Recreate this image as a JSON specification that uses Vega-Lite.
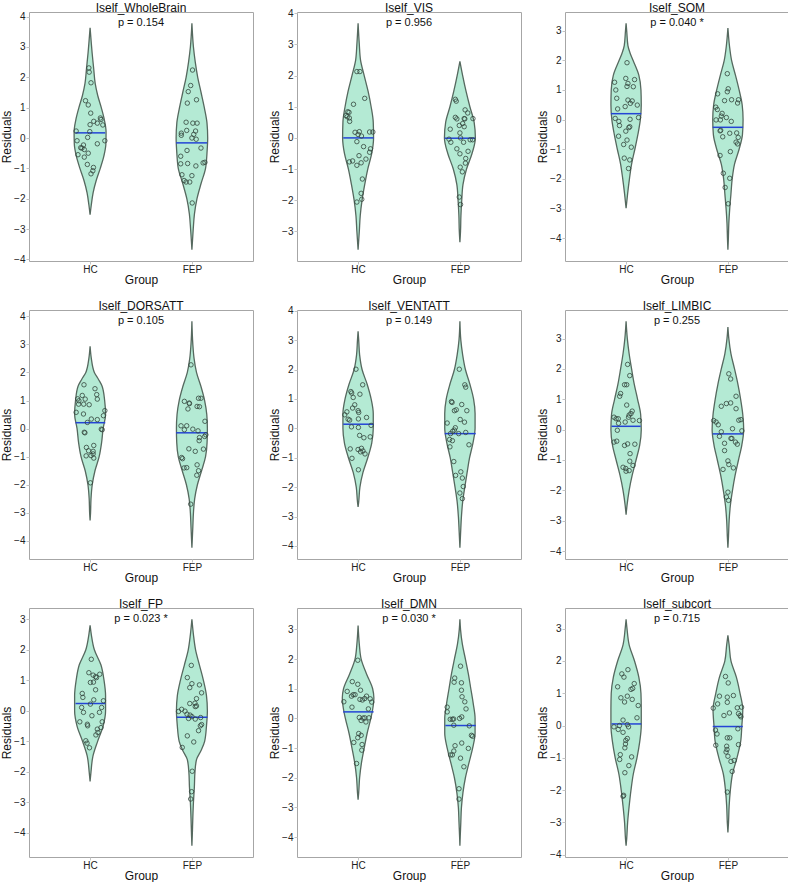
{
"$schema":"https://vega.github.io/schema/vega-lite/v6.json",
"background":"white",
"padding":{"left":0,"top":0,"right":0,"bottom":0},
"data":{"values":[
{"p":"WholeBrain","k":"t","h":"Iself_WholeBrain","t":"p = 0.154"},
{"p":"VIS","k":"t","h":"Iself_VIS","t":"p = 0.956"},
{"p":"SOM","k":"t","h":"Iself_SOM","t":"p = 0.040 *"},
{"p":"DORSATT","k":"t","h":"Iself_DORSATT","t":"p = 0.105"},
{"p":"VENTATT","k":"t","h":"Iself_VENTATT","t":"p = 0.149"},
{"p":"LIMBIC","k":"t","h":"Iself_LIMBIC","t":"p = 0.255"},
{"p":"FP","k":"t","h":"Iself_FP","t":"p = 0.023 *"},
{"p":"DMN","k":"t","h":"Iself_DMN","t":"p = 0.030 *"},
{"p":"subcort","k":"t","h":"Iself_subcort","t":"p = 0.715"},

{"p":"WholeBrain","g":"HC","k":"m","y":0.17,"lo":-0.145,"hi":0.149},
{"p":"WholeBrain","g":"FEP","k":"m","y":-0.16,"lo":0.845,"hi":1.149},
{"p":"VIS","g":"HC","k":"m","y":0.0,"lo":-0.146,"hi":0.152},
{"p":"VIS","g":"FEP","k":"m","y":-0.01,"lo":0.851,"hi":1.149},
{"p":"SOM","g":"HC","k":"m","y":0.2,"lo":-0.149,"hi":0.149},
{"p":"SOM","g":"FEP","k":"m","y":-0.26,"lo":0.851,"hi":1.149},
{"p":"DORSATT","g":"HC","k":"m","y":0.21,"lo":-0.143,"hi":0.149},
{"p":"DORSATT","g":"FEP","k":"m","y":-0.15,"lo":0.845,"hi":1.149},
{"p":"VENTATT","g":"HC","k":"m","y":0.14,"lo":-0.146,"hi":0.152},
{"p":"VENTATT","g":"FEP","k":"m","y":-0.18,"lo":0.851,"hi":1.155},
{"p":"LIMBIC","g":"HC","k":"m","y":0.11,"lo":-0.143,"hi":0.143},
{"p":"LIMBIC","g":"FEP","k":"m","y":-0.14,"lo":0.851,"hi":1.149},
{"p":"FP","g":"HC","k":"m","y":0.24,"lo":-0.143,"hi":0.149},
{"p":"FP","g":"FEP","k":"m","y":-0.21,"lo":0.851,"hi":1.152},
{"p":"DMN","g":"HC","k":"m","y":0.22,"lo":-0.146,"hi":0.152},
{"p":"DMN","g":"FEP","k":"m","y":-0.24,"lo":0.857,"hi":1.155},
{"p":"subcort","g":"HC","k":"m","y":0.05,"lo":-0.143,"hi":0.149},
{"p":"subcort","g":"FEP","k":"m","y":-0.03,"lo":0.851,"hi":1.146},

{"p":"WholeBrain","g":"HC","k":"v","y":3.63,"lo":0,"hi":0},
{"p":"WholeBrain","g":"HC","k":"v","y":3.2,"lo":-0.01,"hi":0.01},
{"p":"WholeBrain","g":"HC","k":"v","y":2.8,"lo":-0.02,"hi":0.02},
{"p":"WholeBrain","g":"HC","k":"v","y":2.3,"lo":-0.035,"hi":0.035},
{"p":"WholeBrain","g":"HC","k":"v","y":1.8,"lo":-0.05,"hi":0.05},
{"p":"WholeBrain","g":"HC","k":"v","y":1.4,"lo":-0.075,"hi":0.075},
{"p":"WholeBrain","g":"HC","k":"v","y":1.0,"lo":-0.11,"hi":0.11},
{"p":"WholeBrain","g":"HC","k":"v","y":0.6,"lo":-0.14,"hi":0.14},
{"p":"WholeBrain","g":"HC","k":"v","y":0.2,"lo":-0.157,"hi":0.157},
{"p":"WholeBrain","g":"HC","k":"v","y":-0.2,"lo":-0.155,"hi":0.155},
{"p":"WholeBrain","g":"HC","k":"v","y":-0.6,"lo":-0.135,"hi":0.135},
{"p":"WholeBrain","g":"HC","k":"v","y":-1.0,"lo":-0.1,"hi":0.1},
{"p":"WholeBrain","g":"HC","k":"v","y":-1.4,"lo":-0.06,"hi":0.06},
{"p":"WholeBrain","g":"HC","k":"v","y":-1.8,"lo":-0.03,"hi":0.03},
{"p":"WholeBrain","g":"HC","k":"v","y":-2.2,"lo":-0.012,"hi":0.012},
{"p":"WholeBrain","g":"HC","k":"v","y":-2.53,"lo":0,"hi":0},
{"p":"WholeBrain","g":"FEP","k":"v","y":3.78,"lo":1,"hi":1},
{"p":"WholeBrain","g":"FEP","k":"v","y":3.0,"lo":0.985,"hi":1.015},
{"p":"WholeBrain","g":"FEP","k":"v","y":2.5,"lo":0.967,"hi":1.033},
{"p":"WholeBrain","g":"FEP","k":"v","y":2.0,"lo":0.943,"hi":1.057},
{"p":"WholeBrain","g":"FEP","k":"v","y":1.5,"lo":0.91,"hi":1.09},
{"p":"WholeBrain","g":"FEP","k":"v","y":1.0,"lo":0.878,"hi":1.122},
{"p":"WholeBrain","g":"FEP","k":"v","y":0.5,"lo":0.852,"hi":1.148},
{"p":"WholeBrain","g":"FEP","k":"v","y":0.0,"lo":0.845,"hi":1.155},
{"p":"WholeBrain","g":"FEP","k":"v","y":-0.5,"lo":0.852,"hi":1.148},
{"p":"WholeBrain","g":"FEP","k":"v","y":-1.0,"lo":0.866,"hi":1.134},
{"p":"WholeBrain","g":"FEP","k":"v","y":-1.5,"lo":0.91,"hi":1.09},
{"p":"WholeBrain","g":"FEP","k":"v","y":-2.0,"lo":0.95,"hi":1.05},
{"p":"WholeBrain","g":"FEP","k":"v","y":-2.5,"lo":0.975,"hi":1.025},
{"p":"WholeBrain","g":"FEP","k":"v","y":-3.0,"lo":0.987,"hi":1.013},
{"p":"WholeBrain","g":"FEP","k":"v","y":-3.68,"lo":1,"hi":1},

{"p":"VIS","g":"HC","k":"v","y":3.68,"lo":0,"hi":0},
{"p":"VIS","g":"HC","k":"v","y":3.0,"lo":-0.012,"hi":0.012},
{"p":"VIS","g":"HC","k":"v","y":2.5,"lo":-0.024,"hi":0.024},
{"p":"VIS","g":"HC","k":"v","y":2.0,"lo":-0.06,"hi":0.06},
{"p":"VIS","g":"HC","k":"v","y":1.5,"lo":-0.098,"hi":0.098},
{"p":"VIS","g":"HC","k":"v","y":1.0,"lo":-0.128,"hi":0.128},
{"p":"VIS","g":"HC","k":"v","y":0.5,"lo":-0.149,"hi":0.149},
{"p":"VIS","g":"HC","k":"v","y":0.0,"lo":-0.152,"hi":0.152},
{"p":"VIS","g":"HC","k":"v","y":-0.5,"lo":-0.134,"hi":0.134},
{"p":"VIS","g":"HC","k":"v","y":-1.0,"lo":-0.095,"hi":0.095},
{"p":"VIS","g":"HC","k":"v","y":-1.5,"lo":-0.065,"hi":0.065},
{"p":"VIS","g":"HC","k":"v","y":-2.0,"lo":-0.039,"hi":0.039},
{"p":"VIS","g":"HC","k":"v","y":-2.5,"lo":-0.021,"hi":0.021},
{"p":"VIS","g":"HC","k":"v","y":-3.0,"lo":-0.012,"hi":0.012},
{"p":"VIS","g":"HC","k":"v","y":-3.59,"lo":0,"hi":0},
{"p":"VIS","g":"FEP","k":"v","y":2.46,"lo":1,"hi":1},
{"p":"VIS","g":"FEP","k":"v","y":2.0,"lo":0.973,"hi":1.027},
{"p":"VIS","g":"FEP","k":"v","y":1.5,"lo":0.94,"hi":1.06},
{"p":"VIS","g":"FEP","k":"v","y":1.0,"lo":0.902,"hi":1.098},
{"p":"VIS","g":"FEP","k":"v","y":0.5,"lo":0.86,"hi":1.14},
{"p":"VIS","g":"FEP","k":"v","y":0.0,"lo":0.848,"hi":1.152},
{"p":"VIS","g":"FEP","k":"v","y":-0.5,"lo":0.881,"hi":1.119},
{"p":"VIS","g":"FEP","k":"v","y":-1.0,"lo":0.935,"hi":1.065},
{"p":"VIS","g":"FEP","k":"v","y":-1.5,"lo":0.97,"hi":1.03},
{"p":"VIS","g":"FEP","k":"v","y":-2.0,"lo":0.982,"hi":1.018},
{"p":"VIS","g":"FEP","k":"v","y":-2.5,"lo":0.99,"hi":1.01},
{"p":"VIS","g":"FEP","k":"v","y":-3.0,"lo":0.994,"hi":1.006},
{"p":"VIS","g":"FEP","k":"v","y":-3.35,"lo":1,"hi":1},

{"p":"SOM","g":"HC","k":"v","y":3.25,"lo":0,"hi":0},
{"p":"SOM","g":"HC","k":"v","y":3.0,"lo":-0.006,"hi":0.006},
{"p":"SOM","g":"HC","k":"v","y":2.5,"lo":-0.018,"hi":0.018},
{"p":"SOM","g":"HC","k":"v","y":2.25,"lo":-0.039,"hi":0.039},
{"p":"SOM","g":"HC","k":"v","y":2.0,"lo":-0.068,"hi":0.068},
{"p":"SOM","g":"HC","k":"v","y":1.5,"lo":-0.125,"hi":0.125},
{"p":"SOM","g":"HC","k":"v","y":1.0,"lo":-0.146,"hi":0.146},
{"p":"SOM","g":"HC","k":"v","y":0.5,"lo":-0.149,"hi":0.149},
{"p":"SOM","g":"HC","k":"v","y":0.0,"lo":-0.14,"hi":0.14},
{"p":"SOM","g":"HC","k":"v","y":-0.5,"lo":-0.116,"hi":0.116},
{"p":"SOM","g":"HC","k":"v","y":-1.0,"lo":-0.086,"hi":0.086},
{"p":"SOM","g":"HC","k":"v","y":-1.5,"lo":-0.054,"hi":0.054},
{"p":"SOM","g":"HC","k":"v","y":-2.0,"lo":-0.033,"hi":0.033},
{"p":"SOM","g":"HC","k":"v","y":-2.5,"lo":-0.015,"hi":0.015},
{"p":"SOM","g":"HC","k":"v","y":-2.99,"lo":0,"hi":0},
{"p":"SOM","g":"FEP","k":"v","y":3.09,"lo":1,"hi":1},
{"p":"SOM","g":"FEP","k":"v","y":2.5,"lo":0.985,"hi":1.015},
{"p":"SOM","g":"FEP","k":"v","y":2.0,"lo":0.964,"hi":1.036},
{"p":"SOM","g":"FEP","k":"v","y":1.5,"lo":0.926,"hi":1.074},
{"p":"SOM","g":"FEP","k":"v","y":1.0,"lo":0.89,"hi":1.11},
{"p":"SOM","g":"FEP","k":"v","y":0.5,"lo":0.86,"hi":1.14},
{"p":"SOM","g":"FEP","k":"v","y":0.0,"lo":0.851,"hi":1.149},
{"p":"SOM","g":"FEP","k":"v","y":-0.5,"lo":0.857,"hi":1.143},
{"p":"SOM","g":"FEP","k":"v","y":-1.0,"lo":0.89,"hi":1.11},
{"p":"SOM","g":"FEP","k":"v","y":-1.5,"lo":0.935,"hi":1.065},
{"p":"SOM","g":"FEP","k":"v","y":-2.0,"lo":0.958,"hi":1.042},
{"p":"SOM","g":"FEP","k":"v","y":-2.5,"lo":0.97,"hi":1.03},
{"p":"SOM","g":"FEP","k":"v","y":-3.0,"lo":0.982,"hi":1.018},
{"p":"SOM","g":"FEP","k":"v","y":-3.5,"lo":0.991,"hi":1.009},
{"p":"SOM","g":"FEP","k":"v","y":-4.0,"lo":0.9955,"hi":1.0045},
{"p":"SOM","g":"FEP","k":"v","y":-4.39,"lo":1,"hi":1},

{"p":"DORSATT","g":"HC","k":"v","y":2.93,"lo":0,"hi":0},
{"p":"DORSATT","g":"HC","k":"v","y":2.5,"lo":-0.012,"hi":0.012},
{"p":"DORSATT","g":"HC","k":"v","y":2.0,"lo":-0.042,"hi":0.042},
{"p":"DORSATT","g":"HC","k":"v","y":1.75,"lo":-0.083,"hi":0.083},
{"p":"DORSATT","g":"HC","k":"v","y":1.5,"lo":-0.119,"hi":0.119},
{"p":"DORSATT","g":"HC","k":"v","y":1.0,"lo":-0.143,"hi":0.143},
{"p":"DORSATT","g":"HC","k":"v","y":0.5,"lo":-0.152,"hi":0.152},
{"p":"DORSATT","g":"HC","k":"v","y":0.0,"lo":-0.128,"hi":0.128},
{"p":"DORSATT","g":"HC","k":"v","y":-0.5,"lo":-0.113,"hi":0.113},
{"p":"DORSATT","g":"HC","k":"v","y":-1.0,"lo":-0.089,"hi":0.089},
{"p":"DORSATT","g":"HC","k":"v","y":-1.5,"lo":-0.048,"hi":0.048},
{"p":"DORSATT","g":"HC","k":"v","y":-2.0,"lo":-0.021,"hi":0.021},
{"p":"DORSATT","g":"HC","k":"v","y":-2.5,"lo":-0.009,"hi":0.009},
{"p":"DORSATT","g":"HC","k":"v","y":-3.0,"lo":-0.0045,"hi":0.0045},
{"p":"DORSATT","g":"HC","k":"v","y":-3.27,"lo":0,"hi":0},
{"p":"DORSATT","g":"FEP","k":"v","y":3.82,"lo":1,"hi":1},
{"p":"DORSATT","g":"FEP","k":"v","y":3.0,"lo":0.991,"hi":1.009},
{"p":"DORSATT","g":"FEP","k":"v","y":2.5,"lo":0.979,"hi":1.021},
{"p":"DORSATT","g":"FEP","k":"v","y":2.0,"lo":0.955,"hi":1.045},
{"p":"DORSATT","g":"FEP","k":"v","y":1.5,"lo":0.911,"hi":1.089},
{"p":"DORSATT","g":"FEP","k":"v","y":1.0,"lo":0.875,"hi":1.125},
{"p":"DORSATT","g":"FEP","k":"v","y":0.5,"lo":0.854,"hi":1.146},
{"p":"DORSATT","g":"FEP","k":"v","y":0.0,"lo":0.848,"hi":1.152},
{"p":"DORSATT","g":"FEP","k":"v","y":-0.5,"lo":0.851,"hi":1.149},
{"p":"DORSATT","g":"FEP","k":"v","y":-1.0,"lo":0.866,"hi":1.134},
{"p":"DORSATT","g":"FEP","k":"v","y":-1.5,"lo":0.905,"hi":1.095},
{"p":"DORSATT","g":"FEP","k":"v","y":-2.0,"lo":0.946,"hi":1.054},
{"p":"DORSATT","g":"FEP","k":"v","y":-2.5,"lo":0.973,"hi":1.027},
{"p":"DORSATT","g":"FEP","k":"v","y":-3.0,"lo":0.985,"hi":1.015},
{"p":"DORSATT","g":"FEP","k":"v","y":-3.5,"lo":0.991,"hi":1.009},
{"p":"DORSATT","g":"FEP","k":"v","y":-4.0,"lo":0.997,"hi":1.003},
{"p":"DORSATT","g":"FEP","k":"v","y":-4.24,"lo":1,"hi":1},

{"p":"VENTATT","g":"HC","k":"v","y":3.3,"lo":0,"hi":0},
{"p":"VENTATT","g":"HC","k":"v","y":3.0,"lo":-0.006,"hi":0.006},
{"p":"VENTATT","g":"HC","k":"v","y":2.5,"lo":-0.015,"hi":0.015},
{"p":"VENTATT","g":"HC","k":"v","y":2.0,"lo":-0.039,"hi":0.039},
{"p":"VENTATT","g":"HC","k":"v","y":1.5,"lo":-0.089,"hi":0.089},
{"p":"VENTATT","g":"HC","k":"v","y":1.0,"lo":-0.128,"hi":0.128},
{"p":"VENTATT","g":"HC","k":"v","y":0.5,"lo":-0.149,"hi":0.149},
{"p":"VENTATT","g":"HC","k":"v","y":0.0,"lo":-0.149,"hi":0.149},
{"p":"VENTATT","g":"HC","k":"v","y":-0.5,"lo":-0.134,"hi":0.134},
{"p":"VENTATT","g":"HC","k":"v","y":-1.0,"lo":-0.095,"hi":0.095},
{"p":"VENTATT","g":"HC","k":"v","y":-1.5,"lo":-0.048,"hi":0.048},
{"p":"VENTATT","g":"HC","k":"v","y":-2.0,"lo":-0.018,"hi":0.018},
{"p":"VENTATT","g":"HC","k":"v","y":-2.5,"lo":-0.006,"hi":0.006},
{"p":"VENTATT","g":"HC","k":"v","y":-2.67,"lo":0,"hi":0},
{"p":"VENTATT","g":"FEP","k":"v","y":3.64,"lo":1,"hi":1},
{"p":"VENTATT","g":"FEP","k":"v","y":3.0,"lo":0.991,"hi":1.009},
{"p":"VENTATT","g":"FEP","k":"v","y":2.5,"lo":0.973,"hi":1.027},
{"p":"VENTATT","g":"FEP","k":"v","y":2.0,"lo":0.946,"hi":1.054},
{"p":"VENTATT","g":"FEP","k":"v","y":1.5,"lo":0.902,"hi":1.098},
{"p":"VENTATT","g":"FEP","k":"v","y":1.0,"lo":0.866,"hi":1.134},
{"p":"VENTATT","g":"FEP","k":"v","y":0.5,"lo":0.851,"hi":1.149},
{"p":"VENTATT","g":"FEP","k":"v","y":0.0,"lo":0.851,"hi":1.149},
{"p":"VENTATT","g":"FEP","k":"v","y":-0.5,"lo":0.872,"hi":1.128},
{"p":"VENTATT","g":"FEP","k":"v","y":-1.0,"lo":0.905,"hi":1.095},
{"p":"VENTATT","g":"FEP","k":"v","y":-1.5,"lo":0.929,"hi":1.071},
{"p":"VENTATT","g":"FEP","k":"v","y":-2.0,"lo":0.952,"hi":1.048},
{"p":"VENTATT","g":"FEP","k":"v","y":-2.5,"lo":0.973,"hi":1.027},
{"p":"VENTATT","g":"FEP","k":"v","y":-3.0,"lo":0.985,"hi":1.015},
{"p":"VENTATT","g":"FEP","k":"v","y":-3.5,"lo":0.9925,"hi":1.0075},
{"p":"VENTATT","g":"FEP","k":"v","y":-4.06,"lo":1,"hi":1},

{"p":"LIMBIC","g":"HC","k":"v","y":3.57,"lo":0,"hi":0},
{"p":"LIMBIC","g":"HC","k":"v","y":3.0,"lo":-0.012,"hi":0.012},
{"p":"LIMBIC","g":"HC","k":"v","y":2.5,"lo":-0.03,"hi":0.03},
{"p":"LIMBIC","g":"HC","k":"v","y":2.0,"lo":-0.054,"hi":0.054},
{"p":"LIMBIC","g":"HC","k":"v","y":1.5,"lo":-0.08,"hi":0.08},
{"p":"LIMBIC","g":"HC","k":"v","y":1.0,"lo":-0.113,"hi":0.113},
{"p":"LIMBIC","g":"HC","k":"v","y":0.5,"lo":-0.143,"hi":0.143},
{"p":"LIMBIC","g":"HC","k":"v","y":0.0,"lo":-0.149,"hi":0.149},
{"p":"LIMBIC","g":"HC","k":"v","y":-0.5,"lo":-0.134,"hi":0.134},
{"p":"LIMBIC","g":"HC","k":"v","y":-1.0,"lo":-0.098,"hi":0.098},
{"p":"LIMBIC","g":"HC","k":"v","y":-1.5,"lo":-0.06,"hi":0.06},
{"p":"LIMBIC","g":"HC","k":"v","y":-2.0,"lo":-0.03,"hi":0.03},
{"p":"LIMBIC","g":"HC","k":"v","y":-2.5,"lo":-0.009,"hi":0.009},
{"p":"LIMBIC","g":"HC","k":"v","y":-2.8,"lo":0,"hi":0},
{"p":"LIMBIC","g":"FEP","k":"v","y":3.38,"lo":1,"hi":1},
{"p":"LIMBIC","g":"FEP","k":"v","y":3.0,"lo":0.991,"hi":1.009},
{"p":"LIMBIC","g":"FEP","k":"v","y":2.5,"lo":0.97,"hi":1.03},
{"p":"LIMBIC","g":"FEP","k":"v","y":2.0,"lo":0.935,"hi":1.065},
{"p":"LIMBIC","g":"FEP","k":"v","y":1.5,"lo":0.902,"hi":1.098},
{"p":"LIMBIC","g":"FEP","k":"v","y":1.0,"lo":0.875,"hi":1.125},
{"p":"LIMBIC","g":"FEP","k":"v","y":0.5,"lo":0.854,"hi":1.146},
{"p":"LIMBIC","g":"FEP","k":"v","y":0.0,"lo":0.845,"hi":1.155},
{"p":"LIMBIC","g":"FEP","k":"v","y":-0.5,"lo":0.863,"hi":1.137},
{"p":"LIMBIC","g":"FEP","k":"v","y":-1.0,"lo":0.896,"hi":1.104},
{"p":"LIMBIC","g":"FEP","k":"v","y":-1.5,"lo":0.929,"hi":1.071},
{"p":"LIMBIC","g":"FEP","k":"v","y":-2.0,"lo":0.955,"hi":1.045},
{"p":"LIMBIC","g":"FEP","k":"v","y":-2.5,"lo":0.976,"hi":1.024},
{"p":"LIMBIC","g":"FEP","k":"v","y":-3.0,"lo":0.988,"hi":1.012},
{"p":"LIMBIC","g":"FEP","k":"v","y":-3.5,"lo":0.994,"hi":1.006},
{"p":"LIMBIC","g":"FEP","k":"v","y":-3.89,"lo":1,"hi":1},

{"p":"FP","g":"HC","k":"v","y":2.8,"lo":0,"hi":0},
{"p":"FP","g":"HC","k":"v","y":2.5,"lo":-0.012,"hi":0.012},
{"p":"FP","g":"HC","k":"v","y":2.0,"lo":-0.042,"hi":0.042},
{"p":"FP","g":"HC","k":"v","y":1.5,"lo":-0.107,"hi":0.107},
{"p":"FP","g":"HC","k":"v","y":1.0,"lo":-0.137,"hi":0.137},
{"p":"FP","g":"HC","k":"v","y":0.5,"lo":-0.152,"hi":0.152},
{"p":"FP","g":"HC","k":"v","y":0.0,"lo":-0.152,"hi":0.152},
{"p":"FP","g":"HC","k":"v","y":-0.5,"lo":-0.128,"hi":0.128},
{"p":"FP","g":"HC","k":"v","y":-1.0,"lo":-0.074,"hi":0.074},
{"p":"FP","g":"HC","k":"v","y":-1.5,"lo":-0.027,"hi":0.027},
{"p":"FP","g":"HC","k":"v","y":-2.0,"lo":-0.009,"hi":0.009},
{"p":"FP","g":"HC","k":"v","y":-2.31,"lo":0,"hi":0},
{"p":"FP","g":"FEP","k":"v","y":3.0,"lo":1,"hi":1},
{"p":"FP","g":"FEP","k":"v","y":2.5,"lo":0.985,"hi":1.015},
{"p":"FP","g":"FEP","k":"v","y":2.0,"lo":0.964,"hi":1.036},
{"p":"FP","g":"FEP","k":"v","y":1.5,"lo":0.926,"hi":1.074},
{"p":"FP","g":"FEP","k":"v","y":1.0,"lo":0.887,"hi":1.113},
{"p":"FP","g":"FEP","k":"v","y":0.5,"lo":0.857,"hi":1.143},
{"p":"FP","g":"FEP","k":"v","y":0.0,"lo":0.848,"hi":1.152},
{"p":"FP","g":"FEP","k":"v","y":-0.5,"lo":0.857,"hi":1.143},
{"p":"FP","g":"FEP","k":"v","y":-1.0,"lo":0.875,"hi":1.125},
{"p":"FP","g":"FEP","k":"v","y":-1.3,"lo":0.91,"hi":1.09},
{"p":"FP","g":"FEP","k":"v","y":-1.6,"lo":0.955,"hi":1.045},
{"p":"FP","g":"FEP","k":"v","y":-2.0,"lo":0.97,"hi":1.03},
{"p":"FP","g":"FEP","k":"v","y":-2.5,"lo":0.976,"hi":1.024},
{"p":"FP","g":"FEP","k":"v","y":-3.0,"lo":0.985,"hi":1.015},
{"p":"FP","g":"FEP","k":"v","y":-3.5,"lo":0.991,"hi":1.009},
{"p":"FP","g":"FEP","k":"v","y":-4.0,"lo":0.9955,"hi":1.0045},
{"p":"FP","g":"FEP","k":"v","y":-4.42,"lo":1,"hi":1},

{"p":"DMN","g":"HC","k":"v","y":3.13,"lo":0,"hi":0},
{"p":"DMN","g":"HC","k":"v","y":2.5,"lo":-0.012,"hi":0.012},
{"p":"DMN","g":"HC","k":"v","y":2.0,"lo":-0.03,"hi":0.03},
{"p":"DMN","g":"HC","k":"v","y":1.5,"lo":-0.083,"hi":0.083},
{"p":"DMN","g":"HC","k":"v","y":1.0,"lo":-0.143,"hi":0.143},
{"p":"DMN","g":"HC","k":"v","y":0.7,"lo":-0.155,"hi":0.155},
{"p":"DMN","g":"HC","k":"v","y":0.3,"lo":-0.143,"hi":0.143},
{"p":"DMN","g":"HC","k":"v","y":0.0,"lo":-0.125,"hi":0.125},
{"p":"DMN","g":"HC","k":"v","y":-0.5,"lo":-0.089,"hi":0.089},
{"p":"DMN","g":"HC","k":"v","y":-1.0,"lo":-0.06,"hi":0.06},
{"p":"DMN","g":"HC","k":"v","y":-1.5,"lo":-0.033,"hi":0.033},
{"p":"DMN","g":"HC","k":"v","y":-2.0,"lo":-0.015,"hi":0.015},
{"p":"DMN","g":"HC","k":"v","y":-2.5,"lo":-0.006,"hi":0.006},
{"p":"DMN","g":"HC","k":"v","y":-2.74,"lo":0,"hi":0},
{"p":"DMN","g":"FEP","k":"v","y":3.34,"lo":1,"hi":1},
{"p":"DMN","g":"FEP","k":"v","y":3.0,"lo":0.994,"hi":1.006},
{"p":"DMN","g":"FEP","k":"v","y":2.5,"lo":0.976,"hi":1.024},
{"p":"DMN","g":"FEP","k":"v","y":2.0,"lo":0.946,"hi":1.054},
{"p":"DMN","g":"FEP","k":"v","y":1.5,"lo":0.917,"hi":1.083},
{"p":"DMN","g":"FEP","k":"v","y":1.0,"lo":0.893,"hi":1.107},
{"p":"DMN","g":"FEP","k":"v","y":0.5,"lo":0.869,"hi":1.131},
{"p":"DMN","g":"FEP","k":"v","y":0.0,"lo":0.851,"hi":1.149},
{"p":"DMN","g":"FEP","k":"v","y":-0.5,"lo":0.851,"hi":1.149},
{"p":"DMN","g":"FEP","k":"v","y":-1.0,"lo":0.875,"hi":1.125},
{"p":"DMN","g":"FEP","k":"v","y":-1.5,"lo":0.911,"hi":1.089},
{"p":"DMN","g":"FEP","k":"v","y":-2.0,"lo":0.946,"hi":1.054},
{"p":"DMN","g":"FEP","k":"v","y":-2.5,"lo":0.97,"hi":1.03},
{"p":"DMN","g":"FEP","k":"v","y":-3.0,"lo":0.985,"hi":1.015},
{"p":"DMN","g":"FEP","k":"v","y":-3.5,"lo":0.991,"hi":1.009},
{"p":"DMN","g":"FEP","k":"v","y":-4.0,"lo":0.997,"hi":1.003},
{"p":"DMN","g":"FEP","k":"v","y":-4.29,"lo":1,"hi":1},

{"p":"subcort","g":"HC","k":"v","y":3.29,"lo":0,"hi":0},
{"p":"subcort","g":"HC","k":"v","y":3.0,"lo":-0.009,"hi":0.009},
{"p":"subcort","g":"HC","k":"v","y":2.5,"lo":-0.03,"hi":0.03},
{"p":"subcort","g":"HC","k":"v","y":2.0,"lo":-0.083,"hi":0.083},
{"p":"subcort","g":"HC","k":"v","y":1.5,"lo":-0.125,"hi":0.125},
{"p":"subcort","g":"HC","k":"v","y":1.0,"lo":-0.146,"hi":0.146},
{"p":"subcort","g":"HC","k":"v","y":0.5,"lo":-0.149,"hi":0.149},
{"p":"subcort","g":"HC","k":"v","y":0.0,"lo":-0.149,"hi":0.149},
{"p":"subcort","g":"HC","k":"v","y":-0.5,"lo":-0.134,"hi":0.134},
{"p":"subcort","g":"HC","k":"v","y":-1.0,"lo":-0.107,"hi":0.107},
{"p":"subcort","g":"HC","k":"v","y":-1.5,"lo":-0.071,"hi":0.071},
{"p":"subcort","g":"HC","k":"v","y":-2.0,"lo":-0.048,"hi":0.048},
{"p":"subcort","g":"HC","k":"v","y":-2.5,"lo":-0.03,"hi":0.03},
{"p":"subcort","g":"HC","k":"v","y":-3.0,"lo":-0.015,"hi":0.015},
{"p":"subcort","g":"HC","k":"v","y":-3.5,"lo":-0.006,"hi":0.006},
{"p":"subcort","g":"HC","k":"v","y":-3.72,"lo":0,"hi":0},
{"p":"subcort","g":"FEP","k":"v","y":2.79,"lo":1,"hi":1},
{"p":"subcort","g":"FEP","k":"v","y":2.5,"lo":0.988,"hi":1.012},
{"p":"subcort","g":"FEP","k":"v","y":2.0,"lo":0.97,"hi":1.03},
{"p":"subcort","g":"FEP","k":"v","y":1.5,"lo":0.917,"hi":1.083},
{"p":"subcort","g":"FEP","k":"v","y":1.0,"lo":0.881,"hi":1.119},
{"p":"subcort","g":"FEP","k":"v","y":0.5,"lo":0.854,"hi":1.146},
{"p":"subcort","g":"FEP","k":"v","y":0.0,"lo":0.863,"hi":1.137},
{"p":"subcort","g":"FEP","k":"v","y":-0.5,"lo":0.875,"hi":1.125},
{"p":"subcort","g":"FEP","k":"v","y":-1.0,"lo":0.911,"hi":1.089},
{"p":"subcort","g":"FEP","k":"v","y":-1.5,"lo":0.955,"hi":1.045},
{"p":"subcort","g":"FEP","k":"v","y":-2.0,"lo":0.976,"hi":1.024},
{"p":"subcort","g":"FEP","k":"v","y":-2.5,"lo":0.988,"hi":1.012},
{"p":"subcort","g":"FEP","k":"v","y":-3.0,"lo":0.994,"hi":1.006},
{"p":"subcort","g":"FEP","k":"v","y":-3.31,"lo":1,"hi":1},

{"p":"WholeBrain","g":"HC","k":"o","x":-0.012,"y":2.31},{"p":"WholeBrain","g":"HC","k":"o","x":-0.009,"y":2.17},{"p":"WholeBrain","g":"HC","k":"o","x":0.009,"y":1.82},{"p":"WholeBrain","g":"HC","k":"o","x":-0.045,"y":1.23},{"p":"WholeBrain","g":"HC","k":"o","x":-0.018,"y":1.09},{"p":"WholeBrain","g":"HC","k":"o","x":0.006,"y":0.82},{"p":"WholeBrain","g":"HC","k":"o","x":0.101,"y":0.66},{"p":"WholeBrain","g":"HC","k":"o","x":0.036,"y":0.55},{"p":"WholeBrain","g":"HC","k":"o","x":0.071,"y":0.49},{"p":"WholeBrain","g":"HC","k":"o","x":0.107,"y":0.61},{"p":"WholeBrain","g":"HC","k":"o","x":0.125,"y":0.43},{"p":"WholeBrain","g":"HC","k":"o","x":0.0,"y":0.44},{"p":"WholeBrain","g":"HC","k":"o","x":-0.003,"y":0.21},{"p":"WholeBrain","g":"HC","k":"o","x":-0.137,"y":0.23},{"p":"WholeBrain","g":"HC","k":"o","x":-0.024,"y":0.02},{"p":"WholeBrain","g":"HC","k":"o","x":-0.128,"y":-0.09},{"p":"WholeBrain","g":"HC","k":"o","x":0.145,"y":-0.09},{"p":"WholeBrain","g":"HC","k":"o","x":0.071,"y":-0.19},{"p":"WholeBrain","g":"HC","k":"o","x":-0.065,"y":-0.23},{"p":"WholeBrain","g":"HC","k":"o","x":-0.08,"y":-0.33},{"p":"WholeBrain","g":"HC","k":"o","x":-0.057,"y":-0.38},{"p":"WholeBrain","g":"HC","k":"o","x":-0.092,"y":-0.32},{"p":"WholeBrain","g":"HC","k":"o","x":-0.018,"y":-0.5},{"p":"WholeBrain","g":"HC","k":"o","x":-0.119,"y":-0.55},{"p":"WholeBrain","g":"HC","k":"o","x":-0.057,"y":-0.63},{"p":"WholeBrain","g":"HC","k":"o","x":-0.027,"y":-0.87},{"p":"WholeBrain","g":"HC","k":"o","x":0.033,"y":-0.97},{"p":"WholeBrain","g":"HC","k":"o","x":0.027,"y":-1.08},{"p":"WholeBrain","g":"HC","k":"o","x":0.009,"y":-1.18},
{"p":"WholeBrain","g":"FEP","k":"o","x":1.006,"y":2.24},{"p":"WholeBrain","g":"FEP","k":"o","x":0.988,"y":1.73},{"p":"WholeBrain","g":"FEP","k":"o","x":0.964,"y":1.53},{"p":"WholeBrain","g":"FEP","k":"o","x":1.045,"y":1.26},{"p":"WholeBrain","g":"FEP","k":"o","x":0.955,"y":1.15},{"p":"WholeBrain","g":"FEP","k":"o","x":0.943,"y":0.52},{"p":"WholeBrain","g":"FEP","k":"o","x":1.009,"y":0.49},{"p":"WholeBrain","g":"FEP","k":"o","x":1.051,"y":0.49},{"p":"WholeBrain","g":"FEP","k":"o","x":0.896,"y":0.16},{"p":"WholeBrain","g":"FEP","k":"o","x":0.896,"y":0.09},{"p":"WholeBrain","g":"FEP","k":"o","x":0.949,"y":0.25},{"p":"WholeBrain","g":"FEP","k":"o","x":1.036,"y":0.23},{"p":"WholeBrain","g":"FEP","k":"o","x":1.018,"y":0.12},{"p":"WholeBrain","g":"FEP","k":"o","x":1.0,"y":0.0},{"p":"WholeBrain","g":"FEP","k":"o","x":1.042,"y":-0.04},{"p":"WholeBrain","g":"FEP","k":"o","x":1.089,"y":-0.33},{"p":"WholeBrain","g":"FEP","k":"o","x":0.952,"y":-0.41},{"p":"WholeBrain","g":"FEP","k":"o","x":0.89,"y":-0.6},{"p":"WholeBrain","g":"FEP","k":"o","x":0.89,"y":-0.85},{"p":"WholeBrain","g":"FEP","k":"o","x":0.958,"y":-0.84},{"p":"WholeBrain","g":"FEP","k":"o","x":1.039,"y":-0.92},{"p":"WholeBrain","g":"FEP","k":"o","x":1.11,"y":-0.82},{"p":"WholeBrain","g":"FEP","k":"o","x":1.128,"y":-0.8},{"p":"WholeBrain","g":"FEP","k":"o","x":0.902,"y":-1.21},{"p":"WholeBrain","g":"FEP","k":"o","x":1.0,"y":-1.24},{"p":"WholeBrain","g":"FEP","k":"o","x":0.923,"y":-1.4},{"p":"WholeBrain","g":"FEP","k":"o","x":0.943,"y":-1.45},{"p":"WholeBrain","g":"FEP","k":"o","x":0.979,"y":-1.45},{"p":"WholeBrain","g":"FEP","k":"o","x":1.003,"y":-2.14},

{"p":"VIS","g":"HC","k":"o","x":-0.012,"y":2.13},{"p":"VIS","g":"HC","k":"o","x":0.018,"y":2.13},{"p":"VIS","g":"HC","k":"o","x":0.065,"y":1.27},{"p":"VIS","g":"HC","k":"o","x":-0.045,"y":1.08},{"p":"VIS","g":"HC","k":"o","x":-0.101,"y":0.84},{"p":"VIS","g":"HC","k":"o","x":-0.089,"y":0.82},{"p":"VIS","g":"HC","k":"o","x":-0.119,"y":0.72},{"p":"VIS","g":"HC","k":"o","x":-0.107,"y":0.68},{"p":"VIS","g":"HC","k":"o","x":-0.086,"y":0.64},{"p":"VIS","g":"HC","k":"o","x":-0.083,"y":0.53},{"p":"VIS","g":"HC","k":"o","x":-0.03,"y":0.18},{"p":"VIS","g":"HC","k":"o","x":0.012,"y":0.2},{"p":"VIS","g":"HC","k":"o","x":0.113,"y":0.19},{"p":"VIS","g":"HC","k":"o","x":0.145,"y":0.19},{"p":"VIS","g":"HC","k":"o","x":0.0,"y":0.11},{"p":"VIS","g":"HC","k":"o","x":0.033,"y":0.06},{"p":"VIS","g":"HC","k":"o","x":-0.012,"y":-0.12},{"p":"VIS","g":"HC","k":"o","x":0.054,"y":-0.28},{"p":"VIS","g":"HC","k":"o","x":0.122,"y":-0.35},{"p":"VIS","g":"HC","k":"o","x":0.113,"y":-0.46},{"p":"VIS","g":"HC","k":"o","x":0.009,"y":-0.57},{"p":"VIS","g":"HC","k":"o","x":0.077,"y":-0.68},{"p":"VIS","g":"HC","k":"o","x":-0.054,"y":-0.74},{"p":"VIS","g":"HC","k":"o","x":-0.086,"y":-0.77},{"p":"VIS","g":"HC","k":"o","x":0.03,"y":-0.8},{"p":"VIS","g":"HC","k":"o","x":-0.012,"y":-0.88},{"p":"VIS","g":"HC","k":"o","x":0.042,"y":-1.32},{"p":"VIS","g":"HC","k":"o","x":0.03,"y":-1.78},{"p":"VIS","g":"HC","k":"o","x":0.036,"y":-1.97},{"p":"VIS","g":"HC","k":"o","x":-0.012,"y":-2.06},
{"p":"VIS","g":"FEP","k":"o","x":0.955,"y":1.24},{"p":"VIS","g":"FEP","k":"o","x":0.964,"y":1.18},{"p":"VIS","g":"FEP","k":"o","x":1.051,"y":0.9},{"p":"VIS","g":"FEP","k":"o","x":1.077,"y":0.8},{"p":"VIS","g":"FEP","k":"o","x":0.955,"y":0.66},{"p":"VIS","g":"FEP","k":"o","x":0.97,"y":0.61},{"p":"VIS","g":"FEP","k":"o","x":1.042,"y":0.62},{"p":"VIS","g":"FEP","k":"o","x":1.048,"y":0.61},{"p":"VIS","g":"FEP","k":"o","x":1.128,"y":0.62},{"p":"VIS","g":"FEP","k":"o","x":0.994,"y":0.4},{"p":"VIS","g":"FEP","k":"o","x":1.027,"y":0.46},{"p":"VIS","g":"FEP","k":"o","x":1.042,"y":0.36},{"p":"VIS","g":"FEP","k":"o","x":0.905,"y":0.28},{"p":"VIS","g":"FEP","k":"o","x":1.0,"y":0.16},{"p":"VIS","g":"FEP","k":"o","x":0.893,"y":-0.04},{"p":"VIS","g":"FEP","k":"o","x":0.911,"y":-0.14},{"p":"VIS","g":"FEP","k":"o","x":1.006,"y":0.0},{"p":"VIS","g":"FEP","k":"o","x":1.036,"y":-0.14},{"p":"VIS","g":"FEP","k":"o","x":1.101,"y":-0.06},{"p":"VIS","g":"FEP","k":"o","x":1.125,"y":-0.06},{"p":"VIS","g":"FEP","k":"o","x":0.97,"y":-0.35},{"p":"VIS","g":"FEP","k":"o","x":1.0,"y":-0.51},{"p":"VIS","g":"FEP","k":"o","x":1.08,"y":-0.43},{"p":"VIS","g":"FEP","k":"o","x":1.057,"y":-0.66},{"p":"VIS","g":"FEP","k":"o","x":1.054,"y":-0.81},{"p":"VIS","g":"FEP","k":"o","x":1.003,"y":-0.94},{"p":"VIS","g":"FEP","k":"o","x":1.024,"y":-1.09},{"p":"VIS","g":"FEP","k":"o","x":0.994,"y":-1.9},{"p":"VIS","g":"FEP","k":"o","x":1.006,"y":-2.14},

{"p":"SOM","g":"HC","k":"o","x":0.009,"y":1.92},{"p":"SOM","g":"HC","k":"o","x":-0.003,"y":1.39},{"p":"SOM","g":"HC","k":"o","x":0.083,"y":1.35},{"p":"SOM","g":"HC","k":"o","x":0.018,"y":1.22},{"p":"SOM","g":"HC","k":"o","x":-0.113,"y":1.26},{"p":"SOM","g":"HC","k":"o","x":-0.101,"y":1.0},{"p":"SOM","g":"HC","k":"o","x":0.071,"y":1.11},{"p":"SOM","g":"HC","k":"o","x":0.009,"y":1.12},{"p":"SOM","g":"HC","k":"o","x":-0.092,"y":0.72},{"p":"SOM","g":"HC","k":"o","x":0.018,"y":0.66},{"p":"SOM","g":"HC","k":"o","x":0.06,"y":0.63},{"p":"SOM","g":"HC","k":"o","x":0.042,"y":0.55},{"p":"SOM","g":"HC","k":"o","x":0.11,"y":0.49},{"p":"SOM","g":"HC","k":"o","x":-0.009,"y":0.44},{"p":"SOM","g":"HC","k":"o","x":-0.083,"y":0.36},{"p":"SOM","g":"HC","k":"o","x":0.122,"y":0.07},{"p":"SOM","g":"HC","k":"o","x":-0.107,"y":0.04},{"p":"SOM","g":"HC","k":"o","x":-0.071,"y":-0.06},{"p":"SOM","g":"HC","k":"o","x":0.039,"y":0.01},{"p":"SOM","g":"HC","k":"o","x":-0.065,"y":-0.2},{"p":"SOM","g":"HC","k":"o","x":0.036,"y":-0.24},{"p":"SOM","g":"HC","k":"o","x":0.027,"y":-0.27},{"p":"SOM","g":"HC","k":"o","x":-0.003,"y":-0.39},{"p":"SOM","g":"HC","k":"o","x":-0.074,"y":-0.56},{"p":"SOM","g":"HC","k":"o","x":0.009,"y":-0.69},{"p":"SOM","g":"HC","k":"o","x":-0.024,"y":-0.84},{"p":"SOM","g":"HC","k":"o","x":0.051,"y":-0.93},{"p":"SOM","g":"HC","k":"o","x":0.036,"y":-1.36},{"p":"SOM","g":"HC","k":"o","x":-0.018,"y":-1.3},{"p":"SOM","g":"HC","k":"o","x":0.024,"y":-1.65},
{"p":"SOM","g":"FEP","k":"o","x":0.994,"y":1.55},{"p":"SOM","g":"FEP","k":"o","x":1.003,"y":1.04},{"p":"SOM","g":"FEP","k":"o","x":0.994,"y":0.94},{"p":"SOM","g":"FEP","k":"o","x":0.899,"y":0.87},{"p":"SOM","g":"FEP","k":"o","x":1.104,"y":0.67},{"p":"SOM","g":"FEP","k":"o","x":1.036,"y":0.67},{"p":"SOM","g":"FEP","k":"o","x":0.967,"y":0.64},{"p":"SOM","g":"FEP","k":"o","x":1.095,"y":0.56},{"p":"SOM","g":"FEP","k":"o","x":0.881,"y":0.42},{"p":"SOM","g":"FEP","k":"o","x":0.896,"y":0.34},{"p":"SOM","g":"FEP","k":"o","x":0.943,"y":0.21},{"p":"SOM","g":"FEP","k":"o","x":0.935,"y":0.12},{"p":"SOM","g":"FEP","k":"o","x":0.884,"y":-0.01},{"p":"SOM","g":"FEP","k":"o","x":0.985,"y":0.07},{"p":"SOM","g":"FEP","k":"o","x":0.926,"y":-0.01},{"p":"SOM","g":"FEP","k":"o","x":1.033,"y":-0.06},{"p":"SOM","g":"FEP","k":"o","x":0.929,"y":-0.36},{"p":"SOM","g":"FEP","k":"o","x":0.923,"y":-0.38},{"p":"SOM","g":"FEP","k":"o","x":1.018,"y":-0.46},{"p":"SOM","g":"FEP","k":"o","x":1.086,"y":-0.45},{"p":"SOM","g":"FEP","k":"o","x":0.949,"y":-0.58},{"p":"SOM","g":"FEP","k":"o","x":1.101,"y":-0.6},{"p":"SOM","g":"FEP","k":"o","x":1.08,"y":-0.76},{"p":"SOM","g":"FEP","k":"o","x":1.095,"y":-0.82},{"p":"SOM","g":"FEP","k":"o","x":1.024,"y":-1.08},{"p":"SOM","g":"FEP","k":"o","x":0.923,"y":-1.21},{"p":"SOM","g":"FEP","k":"o","x":0.955,"y":-1.81},{"p":"SOM","g":"FEP","k":"o","x":1.018,"y":-1.98},{"p":"SOM","g":"FEP","k":"o","x":0.973,"y":-2.29},{"p":"SOM","g":"FEP","k":"o","x":1.003,"y":-2.84},

{"p":"DORSATT","g":"HC","k":"o","x":-0.06,"y":1.56},{"p":"DORSATT","g":"HC","k":"o","x":0.048,"y":1.42},{"p":"DORSATT","g":"HC","k":"o","x":-0.077,"y":1.18},{"p":"DORSATT","g":"HC","k":"o","x":0.065,"y":1.21},{"p":"DORSATT","g":"HC","k":"o","x":-0.122,"y":1.06},{"p":"DORSATT","g":"HC","k":"o","x":-0.11,"y":0.99},{"p":"DORSATT","g":"HC","k":"o","x":-0.048,"y":1.05},{"p":"DORSATT","g":"HC","k":"o","x":0.071,"y":1.05},{"p":"DORSATT","g":"HC","k":"o","x":-0.113,"y":0.87},{"p":"DORSATT","g":"HC","k":"o","x":-0.063,"y":0.87},{"p":"DORSATT","g":"HC","k":"o","x":-0.009,"y":0.85},{"p":"DORSATT","g":"HC","k":"o","x":-0.137,"y":0.58},{"p":"DORSATT","g":"HC","k":"o","x":-0.065,"y":0.52},{"p":"DORSATT","g":"HC","k":"o","x":0.145,"y":0.64},{"p":"DORSATT","g":"HC","k":"o","x":0.131,"y":0.46},{"p":"DORSATT","g":"HC","k":"o","x":0.012,"y":0.34},{"p":"DORSATT","g":"HC","k":"o","x":0.071,"y":0.32},{"p":"DORSATT","g":"HC","k":"o","x":-0.027,"y":0.22},{"p":"DORSATT","g":"HC","k":"o","x":0.11,"y":-0.02},{"p":"DORSATT","g":"HC","k":"o","x":0.119,"y":-0.04},{"p":"DORSATT","g":"HC","k":"o","x":-0.057,"y":-0.13},{"p":"DORSATT","g":"HC","k":"o","x":-0.051,"y":-0.15},{"p":"DORSATT","g":"HC","k":"o","x":0.036,"y":-0.6},{"p":"DORSATT","g":"HC","k":"o","x":-0.036,"y":-0.67},{"p":"DORSATT","g":"HC","k":"o","x":-0.015,"y":-0.79},{"p":"DORSATT","g":"HC","k":"o","x":0.03,"y":-0.81},{"p":"DORSATT","g":"HC","k":"o","x":0.03,"y":-0.9},{"p":"DORSATT","g":"HC","k":"o","x":-0.039,"y":-0.97},{"p":"DORSATT","g":"HC","k":"o","x":0.009,"y":-0.96},{"p":"DORSATT","g":"HC","k":"o","x":0.036,"y":-1.05},{"p":"DORSATT","g":"HC","k":"o","x":0.003,"y":-1.93},
{"p":"DORSATT","g":"FEP","k":"o","x":0.991,"y":2.27},{"p":"DORSATT","g":"FEP","k":"o","x":0.926,"y":0.97},{"p":"DORSATT","g":"FEP","k":"o","x":0.973,"y":0.91},{"p":"DORSATT","g":"FEP","k":"o","x":0.976,"y":0.89},{"p":"DORSATT","g":"FEP","k":"o","x":1.065,"y":1.08},{"p":"DORSATT","g":"FEP","k":"o","x":1.089,"y":1.08},{"p":"DORSATT","g":"FEP","k":"o","x":1.051,"y":0.79},{"p":"DORSATT","g":"FEP","k":"o","x":1.074,"y":0.78},{"p":"DORSATT","g":"FEP","k":"o","x":0.961,"y":0.7},{"p":"DORSATT","g":"FEP","k":"o","x":1.128,"y":0.26},{"p":"DORSATT","g":"FEP","k":"o","x":0.893,"y":0.1},{"p":"DORSATT","g":"FEP","k":"o","x":0.949,"y":0.1},{"p":"DORSATT","g":"FEP","k":"o","x":0.926,"y":-0.04},{"p":"DORSATT","g":"FEP","k":"o","x":1.009,"y":-0.02},{"p":"DORSATT","g":"FEP","k":"o","x":1.06,"y":-0.08},{"p":"DORSATT","g":"FEP","k":"o","x":1.074,"y":-0.32},{"p":"DORSATT","g":"FEP","k":"o","x":1.125,"y":-0.28},{"p":"DORSATT","g":"FEP","k":"o","x":1.137,"y":-0.22},{"p":"DORSATT","g":"FEP","k":"o","x":1.071,"y":-0.43},{"p":"DORSATT","g":"FEP","k":"o","x":0.97,"y":-0.72},{"p":"DORSATT","g":"FEP","k":"o","x":1.113,"y":-0.73},{"p":"DORSATT","g":"FEP","k":"o","x":1.033,"y":-0.81},{"p":"DORSATT","g":"FEP","k":"o","x":0.899,"y":-1.03},{"p":"DORSATT","g":"FEP","k":"o","x":0.908,"y":-1.07},{"p":"DORSATT","g":"FEP","k":"o","x":1.051,"y":-1.29},{"p":"DORSATT","g":"FEP","k":"o","x":1.065,"y":-1.5},{"p":"DORSATT","g":"FEP","k":"o","x":0.923,"y":-1.4},{"p":"DORSATT","g":"FEP","k":"o","x":0.949,"y":-1.39},{"p":"DORSATT","g":"FEP","k":"o","x":1.048,"y":-1.66},{"p":"DORSATT","g":"FEP","k":"o","x":0.988,"y":-2.69},

{"p":"VENTATT","g":"HC","k":"o","x":-0.021,"y":2.01},{"p":"VENTATT","g":"HC","k":"o","x":0.045,"y":1.48},{"p":"VENTATT","g":"HC","k":"o","x":-0.071,"y":1.25},{"p":"VENTATT","g":"HC","k":"o","x":-0.063,"y":1.2},{"p":"VENTATT","g":"HC","k":"o","x":0.018,"y":1.16},{"p":"VENTATT","g":"HC","k":"o","x":-0.048,"y":1.05},{"p":"VENTATT","g":"HC","k":"o","x":-0.033,"y":0.8},{"p":"VENTATT","g":"HC","k":"o","x":-0.054,"y":0.69},{"p":"VENTATT","g":"HC","k":"o","x":-0.11,"y":0.56},{"p":"VENTATT","g":"HC","k":"o","x":0.0,"y":0.6},{"p":"VENTATT","g":"HC","k":"o","x":0.006,"y":0.54},{"p":"VENTATT","g":"HC","k":"o","x":-0.131,"y":0.46},{"p":"VENTATT","g":"HC","k":"o","x":-0.098,"y":0.31},{"p":"VENTATT","g":"HC","k":"o","x":-0.083,"y":0.28},{"p":"VENTATT","g":"HC","k":"o","x":0.003,"y":0.32},{"p":"VENTATT","g":"HC","k":"o","x":0.083,"y":0.37},{"p":"VENTATT","g":"HC","k":"o","x":-0.065,"y":0.05},{"p":"VENTATT","g":"HC","k":"o","x":0.003,"y":0.03},{"p":"VENTATT","g":"HC","k":"o","x":0.128,"y":0.1},{"p":"VENTATT","g":"HC","k":"o","x":0.015,"y":-0.24},{"p":"VENTATT","g":"HC","k":"o","x":0.057,"y":-0.32},{"p":"VENTATT","g":"HC","k":"o","x":0.119,"y":-0.29},{"p":"VENTATT","g":"HC","k":"o","x":-0.077,"y":-0.7},{"p":"VENTATT","g":"HC","k":"o","x":0.0,"y":-0.72},{"p":"VENTATT","g":"HC","k":"o","x":0.033,"y":-0.68},{"p":"VENTATT","g":"HC","k":"o","x":0.048,"y":-0.77},{"p":"VENTATT","g":"HC","k":"o","x":0.068,"y":-0.87},{"p":"VENTATT","g":"HC","k":"o","x":0.024,"y":-0.8},{"p":"VENTATT","g":"HC","k":"o","x":-0.06,"y":-1.02},{"p":"VENTATT","g":"HC","k":"o","x":0.003,"y":-1.41},
{"p":"VENTATT","g":"FEP","k":"o","x":0.994,"y":2.01},{"p":"VENTATT","g":"FEP","k":"o","x":1.048,"y":1.48},{"p":"VENTATT","g":"FEP","k":"o","x":1.057,"y":1.4},{"p":"VENTATT","g":"FEP","k":"o","x":0.917,"y":0.91},{"p":"VENTATT","g":"FEP","k":"o","x":0.923,"y":0.88},{"p":"VENTATT","g":"FEP","k":"o","x":1.018,"y":0.81},{"p":"VENTATT","g":"FEP","k":"o","x":0.964,"y":0.63},{"p":"VENTATT","g":"FEP","k":"o","x":0.946,"y":0.6},{"p":"VENTATT","g":"FEP","k":"o","x":1.068,"y":0.6},{"p":"VENTATT","g":"FEP","k":"o","x":1.003,"y":0.3},{"p":"VENTATT","g":"FEP","k":"o","x":1.045,"y":0.21},{"p":"VENTATT","g":"FEP","k":"o","x":0.875,"y":0.18},{"p":"VENTATT","g":"FEP","k":"o","x":0.955,"y":0.02},{"p":"VENTATT","g":"FEP","k":"o","x":0.946,"y":-0.06},{"p":"VENTATT","g":"FEP","k":"o","x":0.929,"y":-0.1},{"p":"VENTATT","g":"FEP","k":"o","x":0.908,"y":-0.18},{"p":"VENTATT","g":"FEP","k":"o","x":0.988,"y":-0.18},{"p":"VENTATT","g":"FEP","k":"o","x":1.057,"y":-0.14},{"p":"VENTATT","g":"FEP","k":"o","x":0.899,"y":-0.38},{"p":"VENTATT","g":"FEP","k":"o","x":0.926,"y":-0.42},{"p":"VENTATT","g":"FEP","k":"o","x":0.902,"y":-0.63},{"p":"VENTATT","g":"FEP","k":"o","x":1.089,"y":-0.56},{"p":"VENTATT","g":"FEP","k":"o","x":0.94,"y":-1.13},{"p":"VENTATT","g":"FEP","k":"o","x":0.958,"y":-1.6},{"p":"VENTATT","g":"FEP","k":"o","x":1.009,"y":-1.48},{"p":"VENTATT","g":"FEP","k":"o","x":1.024,"y":-1.69},{"p":"VENTATT","g":"FEP","k":"o","x":1.033,"y":-1.98},{"p":"VENTATT","g":"FEP","k":"o","x":1.0,"y":-2.2},{"p":"VENTATT","g":"FEP","k":"o","x":1.024,"y":-2.39},

{"p":"LIMBIC","g":"HC","k":"o","x":0.015,"y":2.15},{"p":"LIMBIC","g":"HC","k":"o","x":0.036,"y":1.78},{"p":"LIMBIC","g":"HC","k":"o","x":-0.015,"y":1.48},{"p":"LIMBIC","g":"HC","k":"o","x":0.006,"y":1.48},{"p":"LIMBIC","g":"HC","k":"o","x":-0.054,"y":1.19},{"p":"LIMBIC","g":"HC","k":"o","x":-0.063,"y":1.1},{"p":"LIMBIC","g":"HC","k":"o","x":0.006,"y":0.81},{"p":"LIMBIC","g":"HC","k":"o","x":0.06,"y":0.61},{"p":"LIMBIC","g":"HC","k":"o","x":0.048,"y":0.53},{"p":"LIMBIC","g":"HC","k":"o","x":0.03,"y":0.48},{"p":"LIMBIC","g":"HC","k":"o","x":0.024,"y":0.41},{"p":"LIMBIC","g":"HC","k":"o","x":-0.119,"y":0.41},{"p":"LIMBIC","g":"HC","k":"o","x":-0.098,"y":0.36},{"p":"LIMBIC","g":"HC","k":"o","x":-0.077,"y":0.36},{"p":"LIMBIC","g":"HC","k":"o","x":0.131,"y":0.3},{"p":"LIMBIC","g":"HC","k":"o","x":0.068,"y":0.31},{"p":"LIMBIC","g":"HC","k":"o","x":-0.074,"y":0.21},{"p":"LIMBIC","g":"HC","k":"o","x":-0.009,"y":0.25},{"p":"LIMBIC","g":"HC","k":"o","x":-0.086,"y":-0.02},{"p":"LIMBIC","g":"HC","k":"o","x":-0.092,"y":-0.38},{"p":"LIMBIC","g":"HC","k":"o","x":-0.119,"y":-0.41},{"p":"LIMBIC","g":"HC","k":"o","x":0.015,"y":-0.47},{"p":"LIMBIC","g":"HC","k":"o","x":0.086,"y":-0.48},{"p":"LIMBIC","g":"HC","k":"o","x":-0.015,"y":-0.52},{"p":"LIMBIC","g":"HC","k":"o","x":0.039,"y":-0.79},{"p":"LIMBIC","g":"HC","k":"o","x":0.036,"y":-1.04},{"p":"LIMBIC","g":"HC","k":"o","x":0.068,"y":-1.18},{"p":"LIMBIC","g":"HC","k":"o","x":-0.03,"y":-1.24},{"p":"LIMBIC","g":"HC","k":"o","x":-0.003,"y":-1.28},{"p":"LIMBIC","g":"HC","k":"o","x":0.03,"y":-1.35},{"p":"LIMBIC","g":"HC","k":"o","x":0.0,"y":-1.37},
{"p":"LIMBIC","g":"FEP","k":"o","x":1.009,"y":1.84},{"p":"LIMBIC","g":"FEP","k":"o","x":1.027,"y":1.67},{"p":"LIMBIC","g":"FEP","k":"o","x":1.08,"y":1.1},{"p":"LIMBIC","g":"FEP","k":"o","x":0.985,"y":0.86},{"p":"LIMBIC","g":"FEP","k":"o","x":1.027,"y":0.88},{"p":"LIMBIC","g":"FEP","k":"o","x":0.935,"y":0.77},{"p":"LIMBIC","g":"FEP","k":"o","x":1.08,"y":0.69},{"p":"LIMBIC","g":"FEP","k":"o","x":1.128,"y":0.33},{"p":"LIMBIC","g":"FEP","k":"o","x":1.107,"y":0.31},{"p":"LIMBIC","g":"FEP","k":"o","x":0.86,"y":0.3},{"p":"LIMBIC","g":"FEP","k":"o","x":0.884,"y":0.25},{"p":"LIMBIC","g":"FEP","k":"o","x":0.905,"y":0.16},{"p":"LIMBIC","g":"FEP","k":"o","x":1.045,"y":0.03},{"p":"LIMBIC","g":"FEP","k":"o","x":1.137,"y":-0.04},{"p":"LIMBIC","g":"FEP","k":"o","x":0.935,"y":-0.07},{"p":"LIMBIC","g":"FEP","k":"o","x":0.917,"y":-0.22},{"p":"LIMBIC","g":"FEP","k":"o","x":1.03,"y":-0.29},{"p":"LIMBIC","g":"FEP","k":"o","x":1.039,"y":-0.29},{"p":"LIMBIC","g":"FEP","k":"o","x":0.967,"y":-0.45},{"p":"LIMBIC","g":"FEP","k":"o","x":1.074,"y":-0.41},{"p":"LIMBIC","g":"FEP","k":"o","x":1.092,"y":-0.48},{"p":"LIMBIC","g":"FEP","k":"o","x":0.967,"y":-0.69},{"p":"LIMBIC","g":"FEP","k":"o","x":1.0,"y":-1.03},{"p":"LIMBIC","g":"FEP","k":"o","x":1.009,"y":-1.15},{"p":"LIMBIC","g":"FEP","k":"o","x":1.054,"y":-1.26},{"p":"LIMBIC","g":"FEP","k":"o","x":0.952,"y":-1.31},{"p":"LIMBIC","g":"FEP","k":"o","x":1.0,"y":-2.06},{"p":"LIMBIC","g":"FEP","k":"o","x":0.985,"y":-2.22},{"p":"LIMBIC","g":"FEP","k":"o","x":1.006,"y":-2.33},

{"p":"FP","g":"HC","k":"o","x":0.012,"y":1.69},{"p":"FP","g":"HC","k":"o","x":-0.012,"y":1.25},{"p":"FP","g":"HC","k":"o","x":0.03,"y":1.17},{"p":"FP","g":"HC","k":"o","x":0.095,"y":1.2},{"p":"FP","g":"HC","k":"o","x":0.054,"y":1.12},{"p":"FP","g":"HC","k":"o","x":0.063,"y":1.09},{"p":"FP","g":"HC","k":"o","x":0.003,"y":0.93},{"p":"FP","g":"HC","k":"o","x":0.033,"y":0.94},{"p":"FP","g":"HC","k":"o","x":0.054,"y":0.69},{"p":"FP","g":"HC","k":"o","x":-0.077,"y":0.57},{"p":"FP","g":"HC","k":"o","x":-0.071,"y":0.44},{"p":"FP","g":"HC","k":"o","x":0.036,"y":0.36},{"p":"FP","g":"HC","k":"o","x":0.131,"y":0.33},{"p":"FP","g":"HC","k":"o","x":-0.083,"y":0.11},{"p":"FP","g":"HC","k":"o","x":0.003,"y":0.22},{"p":"FP","g":"HC","k":"o","x":0.113,"y":0.11},{"p":"FP","g":"HC","k":"o","x":-0.065,"y":-0.05},{"p":"FP","g":"HC","k":"o","x":0.092,"y":-0.05},{"p":"FP","g":"HC","k":"o","x":0.018,"y":-0.16},{"p":"FP","g":"HC","k":"o","x":-0.101,"y":-0.36},{"p":"FP","g":"HC","k":"o","x":0.119,"y":-0.36},{"p":"FP","g":"HC","k":"o","x":-0.027,"y":-0.44},{"p":"FP","g":"HC","k":"o","x":-0.024,"y":-0.49},{"p":"FP","g":"HC","k":"o","x":0.071,"y":-0.6},{"p":"FP","g":"HC","k":"o","x":0.107,"y":-0.55},{"p":"FP","g":"HC","k":"o","x":0.057,"y":-0.79},{"p":"FP","g":"HC","k":"o","x":0.077,"y":-0.71},{"p":"FP","g":"HC","k":"o","x":-0.042,"y":-0.98},{"p":"FP","g":"HC","k":"o","x":-0.03,"y":-1.06},{"p":"FP","g":"HC","k":"o","x":-0.006,"y":-1.21},
{"p":"FP","g":"FEP","k":"o","x":0.994,"y":1.49},{"p":"FP","g":"FEP","k":"o","x":0.955,"y":1.09},{"p":"FP","g":"FEP","k":"o","x":1.0,"y":0.89},{"p":"FP","g":"FEP","k":"o","x":0.979,"y":0.76},{"p":"FP","g":"FEP","k":"o","x":1.074,"y":0.85},{"p":"FP","g":"FEP","k":"o","x":1.095,"y":0.59},{"p":"FP","g":"FEP","k":"o","x":1.045,"y":0.4},{"p":"FP","g":"FEP","k":"o","x":1.03,"y":0.25},{"p":"FP","g":"FEP","k":"o","x":0.979,"y":0.24},{"p":"FP","g":"FEP","k":"o","x":1.045,"y":0.16},{"p":"FP","g":"FEP","k":"o","x":1.033,"y":0.14},{"p":"FP","g":"FEP","k":"o","x":0.899,"y":0.05},{"p":"FP","g":"FEP","k":"o","x":0.869,"y":-0.02},{"p":"FP","g":"FEP","k":"o","x":0.932,"y":-0.01},{"p":"FP","g":"FEP","k":"o","x":0.952,"y":-0.11},{"p":"FP","g":"FEP","k":"o","x":0.982,"y":-0.14},{"p":"FP","g":"FEP","k":"o","x":1.0,"y":-0.19},{"p":"FP","g":"FEP","k":"o","x":0.967,"y":-0.25},{"p":"FP","g":"FEP","k":"o","x":1.033,"y":-0.27},{"p":"FP","g":"FEP","k":"o","x":1.086,"y":-0.22},{"p":"FP","g":"FEP","k":"o","x":1.095,"y":-0.45},{"p":"FP","g":"FEP","k":"o","x":1.083,"y":-0.49},{"p":"FP","g":"FEP","k":"o","x":1.065,"y":-0.65},{"p":"FP","g":"FEP","k":"o","x":0.955,"y":-0.82},{"p":"FP","g":"FEP","k":"o","x":1.018,"y":-1.02},{"p":"FP","g":"FEP","k":"o","x":0.905,"y":-1.2},{"p":"FP","g":"FEP","k":"o","x":1.003,"y":-1.98},{"p":"FP","g":"FEP","k":"o","x":0.997,"y":-2.65},{"p":"FP","g":"FEP","k":"o","x":0.988,"y":-2.89},

{"p":"DMN","g":"HC","k":"o","x":-0.003,"y":1.96},{"p":"DMN","g":"HC","k":"o","x":-0.057,"y":1.24},{"p":"DMN","g":"HC","k":"o","x":-0.003,"y":1.15},{"p":"DMN","g":"HC","k":"o","x":-0.107,"y":0.91},{"p":"DMN","g":"HC","k":"o","x":0.024,"y":0.95},{"p":"DMN","g":"HC","k":"o","x":-0.14,"y":0.56},{"p":"DMN","g":"HC","k":"o","x":-0.048,"y":0.8},{"p":"DMN","g":"HC","k":"o","x":-0.065,"y":0.75},{"p":"DMN","g":"HC","k":"o","x":-0.03,"y":0.8},{"p":"DMN","g":"HC","k":"o","x":0.018,"y":0.64},{"p":"DMN","g":"HC","k":"o","x":0.042,"y":0.62},{"p":"DMN","g":"HC","k":"o","x":0.065,"y":0.67},{"p":"DMN","g":"HC","k":"o","x":0.083,"y":0.75},{"p":"DMN","g":"HC","k":"o","x":0.119,"y":0.66},{"p":"DMN","g":"HC","k":"o","x":0.134,"y":0.55},{"p":"DMN","g":"HC","k":"o","x":-0.06,"y":0.38},{"p":"DMN","g":"HC","k":"o","x":0.101,"y":0.32},{"p":"DMN","g":"HC","k":"o","x":0.012,"y":0.03},{"p":"DMN","g":"HC","k":"o","x":0.048,"y":0.01},{"p":"DMN","g":"HC","k":"o","x":0.065,"y":0.02},{"p":"DMN","g":"HC","k":"o","x":0.107,"y":0.02},{"p":"DMN","g":"HC","k":"o","x":0.03,"y":-0.07},{"p":"DMN","g":"HC","k":"o","x":0.077,"y":-0.12},{"p":"DMN","g":"HC","k":"o","x":0.006,"y":-0.51},{"p":"DMN","g":"HC","k":"o","x":-0.003,"y":-0.65},{"p":"DMN","g":"HC","k":"o","x":0.03,"y":-0.57},{"p":"DMN","g":"HC","k":"o","x":0.039,"y":-0.88},{"p":"DMN","g":"HC","k":"o","x":-0.042,"y":-0.81},{"p":"DMN","g":"HC","k":"o","x":0.036,"y":-1.07},{"p":"DMN","g":"HC","k":"o","x":-0.015,"y":-1.52},
{"p":"DMN","g":"FEP","k":"o","x":1.006,"y":1.76},{"p":"DMN","g":"FEP","k":"o","x":0.949,"y":1.36},{"p":"DMN","g":"FEP","k":"o","x":0.943,"y":1.22},{"p":"DMN","g":"FEP","k":"o","x":1.015,"y":1.2},{"p":"DMN","g":"FEP","k":"o","x":1.015,"y":0.95},{"p":"DMN","g":"FEP","k":"o","x":1.021,"y":0.73},{"p":"DMN","g":"FEP","k":"o","x":1.048,"y":0.56},{"p":"DMN","g":"FEP","k":"o","x":0.875,"y":0.38},{"p":"DMN","g":"FEP","k":"o","x":0.875,"y":0.22},{"p":"DMN","g":"FEP","k":"o","x":1.06,"y":0.32},{"p":"DMN","g":"FEP","k":"o","x":1.018,"y":0.05},{"p":"DMN","g":"FEP","k":"o","x":0.997,"y":0.0},{"p":"DMN","g":"FEP","k":"o","x":0.926,"y":-0.03},{"p":"DMN","g":"FEP","k":"o","x":0.905,"y":-0.03},{"p":"DMN","g":"FEP","k":"o","x":0.938,"y":-0.02},{"p":"DMN","g":"FEP","k":"o","x":1.092,"y":-0.25},{"p":"DMN","g":"FEP","k":"o","x":0.94,"y":-0.23},{"p":"DMN","g":"FEP","k":"o","x":1.113,"y":-0.57},{"p":"DMN","g":"FEP","k":"o","x":1.125,"y":-0.6},{"p":"DMN","g":"FEP","k":"o","x":1.018,"y":-0.83},{"p":"DMN","g":"FEP","k":"o","x":0.952,"y":-0.92},{"p":"DMN","g":"FEP","k":"o","x":1.083,"y":-1.01},{"p":"DMN","g":"FEP","k":"o","x":0.94,"y":-1.1},{"p":"DMN","g":"FEP","k":"o","x":0.926,"y":-1.23},{"p":"DMN","g":"FEP","k":"o","x":0.908,"y":-1.23},{"p":"DMN","g":"FEP","k":"o","x":1.006,"y":-1.34},{"p":"DMN","g":"FEP","k":"o","x":1.039,"y":-1.63},{"p":"DMN","g":"FEP","k":"o","x":0.991,"y":-2.37},{"p":"DMN","g":"FEP","k":"o","x":0.991,"y":-2.72},

{"p":"subcort","g":"HC","k":"o","x":0.018,"y":1.73},{"p":"subcort","g":"HC","k":"o","x":-0.042,"y":1.6},{"p":"subcort","g":"HC","k":"o","x":-0.021,"y":1.5},{"p":"subcort","g":"HC","k":"o","x":-0.083,"y":1.2},{"p":"subcort","g":"HC","k":"o","x":0.065,"y":1.15},{"p":"subcort","g":"HC","k":"o","x":0.048,"y":1.12},{"p":"subcort","g":"HC","k":"o","x":0.08,"y":1.3},{"p":"subcort","g":"HC","k":"o","x":0.012,"y":0.91},{"p":"subcort","g":"HC","k":"o","x":-0.051,"y":0.86},{"p":"subcort","g":"HC","k":"o","x":0.06,"y":0.81},{"p":"subcort","g":"HC","k":"o","x":-0.015,"y":0.73},{"p":"subcort","g":"HC","k":"o","x":0.119,"y":0.62},{"p":"subcort","g":"HC","k":"o","x":0.107,"y":0.24},{"p":"subcort","g":"HC","k":"o","x":-0.03,"y":0.17},{"p":"subcort","g":"HC","k":"o","x":-0.119,"y":-0.04},{"p":"subcort","g":"HC","k":"o","x":-0.065,"y":0.0},{"p":"subcort","g":"HC","k":"o","x":0.012,"y":0.03},{"p":"subcort","g":"HC","k":"o","x":-0.077,"y":-0.12},{"p":"subcort","g":"HC","k":"o","x":0.024,"y":-0.04},{"p":"subcort","g":"HC","k":"o","x":-0.03,"y":-0.21},{"p":"subcort","g":"HC","k":"o","x":0.012,"y":-0.4},{"p":"subcort","g":"HC","k":"o","x":-0.003,"y":-0.46},{"p":"subcort","g":"HC","k":"o","x":-0.006,"y":-0.57},{"p":"subcort","g":"HC","k":"o","x":-0.012,"y":-0.69},{"p":"subcort","g":"HC","k":"o","x":0.054,"y":-0.97},{"p":"subcort","g":"HC","k":"o","x":-0.057,"y":-0.9},{"p":"subcort","g":"HC","k":"o","x":-0.063,"y":-1.05},{"p":"subcort","g":"HC","k":"o","x":0.027,"y":-1.24},{"p":"subcort","g":"HC","k":"o","x":-0.012,"y":-1.46},{"p":"subcort","g":"HC","k":"o","x":-0.024,"y":-2.16},{"p":"subcort","g":"HC","k":"o","x":-0.03,"y":-2.19},
{"p":"subcort","g":"FEP","k":"o","x":0.976,"y":1.52},{"p":"subcort","g":"FEP","k":"o","x":1.003,"y":1.32},{"p":"subcort","g":"FEP","k":"o","x":0.917,"y":0.91},{"p":"subcort","g":"FEP","k":"o","x":0.994,"y":0.88},{"p":"subcort","g":"FEP","k":"o","x":1.054,"y":0.93},{"p":"subcort","g":"FEP","k":"o","x":0.899,"y":0.67},{"p":"subcort","g":"FEP","k":"o","x":0.994,"y":0.72},{"p":"subcort","g":"FEP","k":"o","x":1.092,"y":0.55},{"p":"subcort","g":"FEP","k":"o","x":1.134,"y":0.57},{"p":"subcort","g":"FEP","k":"o","x":0.856,"y":0.54},{"p":"subcort","g":"FEP","k":"o","x":0.961,"y":0.31},{"p":"subcort","g":"FEP","k":"o","x":1.015,"y":0.39},{"p":"subcort","g":"FEP","k":"o","x":1.104,"y":0.37},{"p":"subcort","g":"FEP","k":"o","x":1.119,"y":0.31},{"p":"subcort","g":"FEP","k":"o","x":1.128,"y":0.27},{"p":"subcort","g":"FEP","k":"o","x":0.878,"y":-0.14},{"p":"subcort","g":"FEP","k":"o","x":0.893,"y":-0.26},{"p":"subcort","g":"FEP","k":"o","x":1.098,"y":-0.1},{"p":"subcort","g":"FEP","k":"o","x":0.994,"y":-0.38},{"p":"subcort","g":"FEP","k":"o","x":1.018,"y":-0.38},{"p":"subcort","g":"FEP","k":"o","x":0.881,"y":-0.61},{"p":"subcort","g":"FEP","k":"o","x":1.104,"y":-0.59},{"p":"subcort","g":"FEP","k":"o","x":0.988,"y":-0.64},{"p":"subcort","g":"FEP","k":"o","x":0.991,"y":-0.74},{"p":"subcort","g":"FEP","k":"o","x":0.982,"y":-0.82},{"p":"subcort","g":"FEP","k":"o","x":1.0,"y":-0.95},{"p":"subcort","g":"FEP","k":"o","x":1.03,"y":-1.11},{"p":"subcort","g":"FEP","k":"o","x":1.062,"y":-1.08},{"p":"subcort","g":"FEP","k":"o","x":1.042,"y":-1.42},{"p":"subcort","g":"FEP","k":"o","x":0.994,"y":-2.06}
]},
"facet":{"field":"p","type":"nominal","sort":["WholeBrain","VIS","SOM","DORSATT","VENTATT","LIMBIC","FP","DMN","subcort"],"header":{"title":null,"labelExpr":"''","labelFontSize":1,"labelPadding":0}},
"columns":3,
"bounds":"flush",
"spacing":{"row":49,"column":44},
"resolve":{"scale":{"y":"independent"},"axis":{"x":"independent","y":"independent"}},
"spec":{
"width":224,
"height":249,
"layer":[
{"transform":[{"filter":"datum.k == 'v'"}],
 "mark":{"type":"area","orient":"horizontal","interpolate":"monotone","fill":"#b4ead4","fillOpacity":1,"stroke":"#56695f","strokeWidth":1.3},
 "encoding":{
  "y":{"field":"y","type":"quantitative","scale":{"zero":false,"nice":false,"padding":11.3},"axis":{"title":"Residuals","tickCount":8,"tickMinStep":1,"labelPadding":1,"titlePadding":0}},
  "x":{"field":"lo","type":"quantitative","scale":{"domain":[-0.5,1.5]},"axis":{"title":"Group","values":[0,1],"labelExpr":"datum.value == 0 ? 'HC' : 'FEP'","labelPadding":0,"titlePadding":0}},
  "x2":{"field":"hi"},
  "detail":{"field":"g"}}},
{"transform":[{"filter":"datum.k == 'm'"}],
 "mark":{"type":"rule","color":"#2444d6","strokeWidth":1.5},
 "encoding":{"y":{"field":"y","type":"quantitative"},"x":{"field":"lo","type":"quantitative"},"x2":{"field":"hi"}}},
{"transform":[{"filter":"datum.k == 'o'"}],
 "mark":{"type":"point","shape":"circle","filled":false,"stroke":"#33453c","strokeWidth":0.8,"size":20,"opacity":1},
 "encoding":{"y":{"field":"y","type":"quantitative"},"x":{"field":"x","type":"quantitative"}}},
{"transform":[{"joinaggregate":[{"op":"max","field":"y","as":"ymax"}],"groupby":["p"]},{"filter":"datum.k == 't'"}],
 "layer":[
  {"mark":{"type":"text","font":"Liberation Sans","fontSize":11,"color":"#111111","baseline":"middle","align":"center"},
   "encoding":{"y":{"field":"ymax","type":"quantitative"},"x":{"datum":0.5},"text":{"field":"t"}}},
  {"mark":{"type":"text","font":"Liberation Sans","fontSize":12,"color":"#111111","baseline":"middle","align":"center","dy":-15.5},
   "encoding":{"y":{"field":"ymax","type":"quantitative"},"x":{"datum":0.5},"text":{"field":"h"}}}
 ]}
]},
"config":{
 "view":{"stroke":"#a6a6a6","strokeWidth":1},
 "font":"Liberation Sans",
 "axis":{"domain":false,"grid":false,"ticks":true,"tickColor":"#c4c4c4","tickSize":3,"labelFont":"Liberation Sans","labelFontSize":10,"labelColor":"#222222","titleFont":"Liberation Sans","titleFontSize":12,"titleFontWeight":"normal","titleColor":"#111111"}
}
}
